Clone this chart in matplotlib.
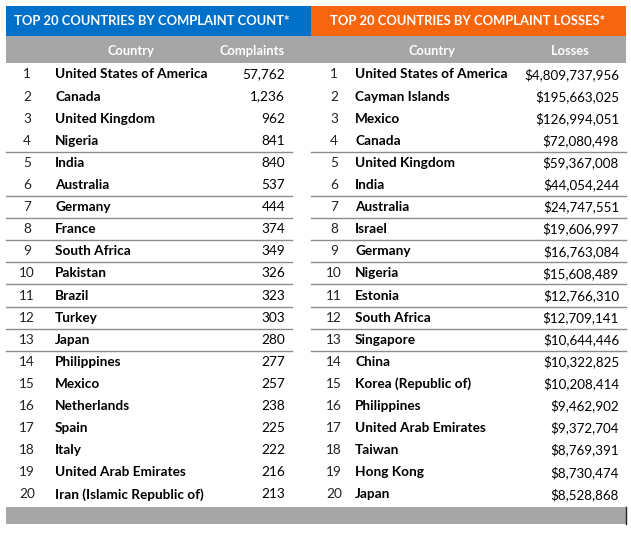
import matplotlib
matplotlib.use("Agg")
import matplotlib.pyplot as plt
from matplotlib.patches import Rectangle

# Données
ranks = list(range(1, 21))
count_countries = ["United States of America", "Canada", "United Kingdom", "Nigeria", "India",
                   "Australia", "Germany", "France", "South Africa", "Pakistan", "Brazil", "Turkey",
                   "Japan", "Philippines", "Mexico", "Netherlands", "Spain", "Italy",
                   "United Arab Emirates", "Iran (Islamic Republic of)"]
complaints = [57762, 1236, 962, 841, 840, 537, 444, 374, 349, 326, 323, 303, 280, 277, 257,
              238, 225, 222, 216, 213]
loss_countries = ["United States of America", "Cayman Islands", "Mexico", "Canada",
                  "United Kingdom", "India", "Australia", "Israel", "Germany", "Nigeria",
                  "Estonia", "South Africa", "Singapore", "China", "Korea (Republic of)",
                  "Philippines", "United Arab Emirates", "Taiwan", "Hong Kong", "Japan"]
losses = [4809737956, 195663025, 126994051, 72080498, 59367008, 44054244, 24747551, 19606997,
          16763084, 15608489, 12766310, 12709141, 10644446, 10322825, 10208414, 9462902,
          9372704, 8769391, 8730474, 8528868]
# lignes de séparation sous ces rangs
line_after = [4, 6, 7, 8, 9, 10, 11, 12, 13]

blue = "#0070C8"
orange = "#F8650F"
grey = "#A6A6A6"
font = "Lato"

fig = plt.figure(figsize=(6.31, 5.33), dpi=100)
ax = fig.add_axes([0, 0, 1, 1])
ax.set_xlim(0, 631)
ax.set_ylim(533, 0)
ax.axis("off")

# En-têtes
ax.add_patch(Rectangle((6, 6), 305, 30, color=blue, lw=0))
ax.add_patch(Rectangle((311, 6), 315, 30, color=orange, lw=0))
ax.add_patch(Rectangle((6, 36), 620, 27, color=grey, lw=0))
ax.add_patch(Rectangle((6, 507), 620, 17, color=grey, lw=0))
ax.plot([626, 626], [507, 524], color="#222222", lw=1)

ax.text(14, 21, "TOP 20 COUNTRIES BY COMPLAINT COUNT*", color="white", fontsize=9.4,
        fontweight="bold", family=font, va="center", ha="left")
ax.text(468, 21, "TOP 20 COUNTRIES BY COMPLAINT LOSSES*", color="white", fontsize=9.4,
        fontweight="bold", family=font, va="center", ha="center")

sub = dict(color="white", fontsize=9.3, fontweight="bold", family=font, va="center")
ax.text(131, 51, "Country", ha="center", **sub)
ax.text(285, 51, "Complaints", ha="right", **sub)
ax.text(432, 51, "Country", ha="center", **sub)
ax.text(589, 51, "Losses", ha="right", **sub)

y0, dy = 74.5, 22.1
for i, r in enumerate(ranks):
    y = y0 + i * dy
    ax.text(27, y, str(r), ha="center", va="center", fontsize=9.8, family=font, color="#222222")
    ax.text(55, y, count_countries[i], ha="left", va="center", fontsize=9.8,
            fontweight="bold", family=font, color="black")
    ax.text(285, y, f"{complaints[i]:,}", ha="right", va="center", fontsize=9.8,
            family=font, color="black")
    ax.text(334, y, str(r), ha="center", va="center", fontsize=9.8, family=font, color="#222222")
    ax.text(355, y, loss_countries[i], ha="left", va="center", fontsize=9.8,
            fontweight="bold", family=font, color="black")
    ax.text(619, y, f"${losses[i]:,}", ha="right", va="center", fontsize=9.6,
            family=font, color="black")
    if r in line_after:
        yl = y + dy / 2
        ax.plot([6, 292], [yl, yl], color="#8C8C8C", lw=1)
        ax.plot([311, 626], [yl, yl], color="#8C8C8C", lw=1)

fig.savefig("out.png", dpi=100)
